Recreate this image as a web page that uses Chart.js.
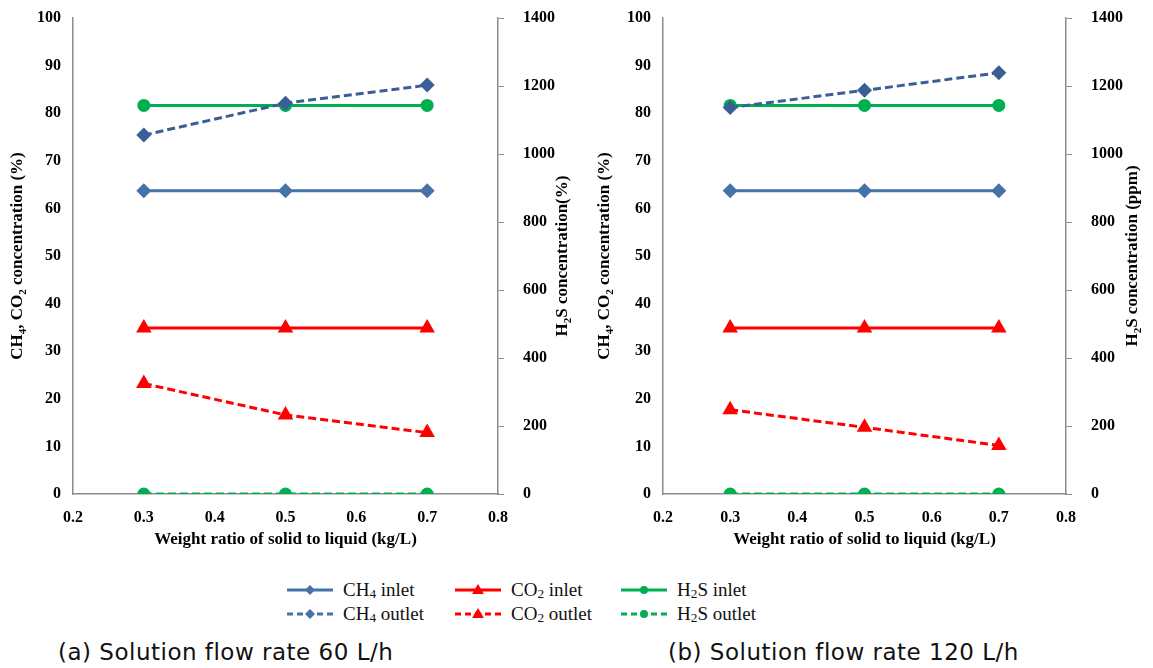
<!DOCTYPE html>
<html>
<head>
<meta charset="utf-8">
<script src="https://cdn.jsdelivr.net/npm/chart.js@4.4.0/dist/chart.umd.min.js"></script>
<style>
    body { margin: 0; background: #fff; width: 1153px; height: 668px; position: relative; overflow: hidden; }
    .box { position: absolute; top: 0; height: 560px; }
    #boxA { left: 0; width: 580px; }
    #boxB { left: 585px; width: 568px; }
    #legend { position: absolute; left: 286px; top: 578px; display: grid; grid-template-columns: 168px 166px 180px;
        font-family: "Liberation Serif", serif; font-size: 19px; color: #111; }
    .item { display: flex; align-items: center; height: 24px; white-space: nowrap; }
    .item svg { margin-right: 9px; flex: none; }
    .item sub { font-size: 70%; vertical-align: -2px; }
    .cap { position: absolute; top: 639px; font-family: "DejaVu Sans", sans-serif; font-size: 23px;
        letter-spacing: 0.5px; color: #111; }
</style>
</head>
<body>
<div class="box" id="boxA"><canvas id="chartA"></canvas></div>
<div class="box" id="boxB"><canvas id="chartB"></canvas></div>
<div id="legend"></div>
<div class="cap" style="left:58px">(a) Solution flow rate 60 L/h</div>
<div class="cap" style="left:668px">(b) Solution flow rate 120 L/h</div>

<script>
// weight ratio of solid to liquid (kg/L)
const ratios = [0.3, 0.5, 0.7];

// (a) 60 L/h
const ch4InletA = [63.7, 63.7, 63.7];
const ch4OutletA = [75.4, 82.1, 85.9];
const co2InletA = [34.9, 34.9, 34.9];
const co2OutletA = [23.2, 16.6, 12.9];
const h2sInletA = [1143, 1143, 1143];   // ppm, right axis
const h2sOutletA = [0, 0, 0];

// (b) 120 L/h
const ch4InletB = [63.7, 63.7, 63.7];
const ch4OutletB = [81.2, 84.8, 88.5];
const co2InletB = [34.9, 34.9, 34.9];
const co2OutletB = [17.7, 14.0, 10.2];
const h2sInletB = [1143, 1143, 1143];
const h2sOutletB = [0, 0, 0];

const seriesNames = ['CH4 inlet', 'CH4 outlet', 'CO2 inlet', 'CO2 outlet', 'H2S inlet', 'H2S outlet'];

const BLUE = '#4573A7', BLUE_D = '#3B5E96', RED = '#FF0000', GREEN = '#00B050';
const serif = '"Liberation Serif", "Times New Roman", serif';

Chart.defaults.font.family = serif;
Chart.defaults.color = '#000';

function pts(values) {
    return ratios.map((r, i) => ({ x: r, y: values[i] }));
}

function line(label, values, color, dashed, style, radius, axis) {
    return {
        label: label,
        data: pts(values),
        borderColor: color,
        backgroundColor: color,
        borderWidth: 3,
        borderDash: dashed ? [8, 4] : [],
        pointStyle: style,
        pointRadius: radius,
        pointHoverRadius: radius,
        pointBorderWidth: 0,
        yAxisID: axis,
        tension: 0,
    };
}

// rotated axis title with real subscripts, reading bottom to top
function drawRich(ctx, parts, x, y) {
    const big = 'bold 17px ' + serif, small = 'bold 11px ' + serif;
    ctx.save();
    ctx.translate(x, y);
    ctx.rotate(-Math.PI / 2);
    let w = 0;
    parts.forEach(p => { ctx.font = p.sub ? small : big; w += ctx.measureText(p.t).width; });
    let cx = -w / 2;
    ctx.textBaseline = 'middle';
    ctx.fillStyle = '#000';
    parts.forEach(p => {
        ctx.font = p.sub ? small : big;
        ctx.fillText(p.t, cx, p.sub ? 5 : 0);
        cx += ctx.measureText(p.t).width;
    });
    ctx.restore();
}

const axisTitles = {
    id: 'axisTitles',
    afterDraw(chart, args, opts) {
        const a = chart.chartArea;
        const cy = (a.top + a.bottom) / 2;
        drawRich(chart.ctx, opts.left, opts.leftX, cy);
        drawRich(chart.ctx, opts.right, opts.rightX, cy);
    }
};

const tickFont = { family: serif, size: 16, weight: 'bold' };

// fixed axis width; keep the label padding from pushing the plot area down
function fitY(width) {
    return (s) => {
        s.width = width;
        s.paddingTop = 8;
        s.paddingBottom = 8;
    };
}

function makeChart(id, d, rightTitle, leftW, rightW, leftX, rightX) {
    const ctx = document.getElementById(id).getContext('2d');
    return new Chart(ctx, {
        type: 'line',
        data: {
            datasets: [
                line(seriesNames[0], d.ch4In, BLUE, false, 'rectRot', 7.5, 'y'),
                line(seriesNames[1], d.ch4Out, BLUE_D, true, 'rectRot', 7.5, 'y'),
                line(seriesNames[2], d.co2In, RED, false, 'triangle', 9, 'y'),
                line(seriesNames[3], d.co2Out, RED, true, 'triangle', 9, 'y'),
                line(seriesNames[4], d.h2sIn, GREEN, false, 'circle', 6.5, 'y2'),
                line(seriesNames[5], d.h2sOut, GREEN, true, 'circle', 6.5, 'y2'),
            ],
        },
        options: {
            responsive: true,
            maintainAspectRatio: false,
            animation: false,
            layout: { padding: { top: 18, bottom: 0, left: 0, right: 0 } },
            plugins: {
                legend: { display: false },
                tooltip: { enabled: false },
                axisTitles: {
                    left: [{ t: 'CH' }, { t: '4', sub: 1 }, { t: ', CO' }, { t: '2', sub: 1 }, { t: ' concentration (%)' }],
                    right: rightTitle,
                    leftX: leftX,
                    rightX: rightX,
                },
            },
            scales: {
                x: {
                    type: 'linear',
                    min: 0.2,
                    max: 0.8,
                    ticks: {
                        stepSize: 0.1,
                        padding: 14,
                        color: '#000',
                        font: tickFont,
                        callback: (v) => v.toFixed(1),
                    },
                    grid: { display: false, drawTicks: false },
                    border: { display: true, color: '#8c8c8c', width: 1.5 },
                    title: {
                        display: true,
                        text: 'Weight ratio of solid to liquid (kg/L)',
                        color: '#000',
                        font: { family: serif, size: 17, weight: 'bold' },
                        padding: { top: 4, bottom: 10 },
                    },
                    afterFit: (s) => { s.height = 66; },
                },
                y: {
                    position: 'left',
                    min: 0,
                    max: 100,
                    ticks: {
                        stepSize: 10,
                        padding: 12,
                        color: '#000',
                        font: tickFont,
                        callback: (v) => String(v),
                    },
                    grid: { display: false, drawTicks: false },
                    border: { display: true, color: '#8c8c8c', width: 1.5 },
                    afterFit: fitY(leftW),
                },
                y2: {
                    position: 'right',
                    min: 0,
                    max: 1400,
                    ticks: {
                        stepSize: 200,
                        padding: 19,
                        color: '#000',
                        font: tickFont,
                        callback: (v) => String(v),
                    },
                    grid: { display: true, drawOnChartArea: false, drawTicks: true, tickLength: 6, color: '#8c8c8c' },
                    border: { display: true, color: '#8c8c8c', width: 1.5 },
                    afterFit: fitY(rightW),
                },
            },
        },
        plugins: [axisTitles],
    });
}

makeChart('chartA', {
    ch4In: ch4InletA, ch4Out: ch4OutletA, co2In: co2InletA, co2Out: co2OutletA, h2sIn: h2sInletA, h2sOut: h2sOutletA,
}, [{ t: 'H' }, { t: '2', sub: 1 }, { t: 'S concentration(%)' }], 73, 82, 18, 563);

makeChart('chartB', {
    ch4In: ch4InletB, ch4Out: ch4OutletB, co2In: co2InletB, co2Out: co2OutletB, h2sIn: h2sInletB, h2sOut: h2sOutletB,
}, [{ t: 'H' }, { t: '2', sub: 1 }, { t: 'S concentration (ppm)' }], 78, 87, 20, 548);

// legend (3 columns x 2 rows), built from the series names and styles
const legendStyles = [
    { color: BLUE, dash: false, mark: 'diamond' },
    { color: BLUE, dash: true, mark: 'diamond' },
    { color: RED, dash: false, mark: 'triangle' },
    { color: RED, dash: true, mark: 'triangle' },
    { color: GREEN, dash: false, mark: 'circle' },
    { color: GREEN, dash: true, mark: 'circle' },
];

function sampleSvg(s) {
    let mark = '';
    if (s.mark === 'diamond') mark = '<polygon points="24,2 29,7 24,12 19,7" fill="' + s.color + '"/>';
    if (s.mark === 'triangle') mark = '<polygon points="24,1 30,11 18,11" fill="' + s.color + '"/>';
    if (s.mark === 'circle') mark = '<circle cx="24" cy="7" r="4" fill="' + s.color + '"/>';
    return '<svg width="48" height="14"><line x1="1" y1="7" x2="47" y2="7" stroke="' + s.color +
        '" stroke-width="3"' + (s.dash ? ' stroke-dasharray="6 4"' : '') + '/>' + mark + '</svg>';
}

function labelHtml(name) {
    return name.replace(/(CH|CO|H)(\d)/, '$1<sub>$2</sub>');
}

const legend = document.getElementById('legend');
const order = [0, 2, 4, 1, 3, 5];
order.forEach(i => {
    const el = document.createElement('div');
    el.className = 'item';
    el.innerHTML = sampleSvg(legendStyles[i]) + '<span>' + labelHtml(seriesNames[i]) + '</span>';
    legend.appendChild(el);
});
</script>
</body>
</html>
